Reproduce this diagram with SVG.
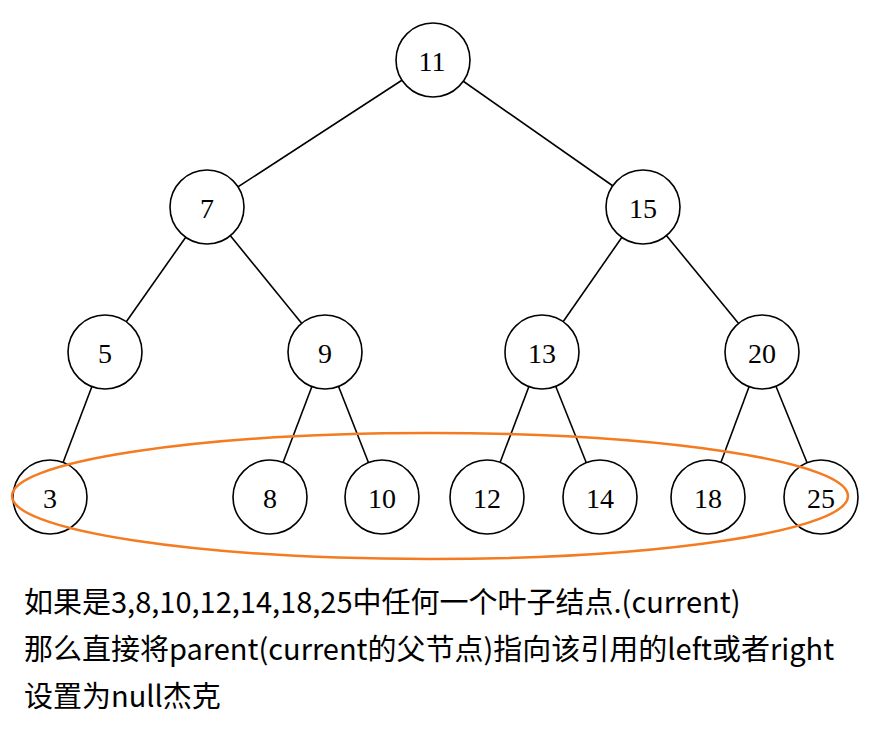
<svg xmlns="http://www.w3.org/2000/svg" width="876" height="744" viewBox="0 0 876 744">
<style>
.n circle{fill:#fff;stroke:#000;stroke-width:1.6}
.n text{font-family:"Liberation Serif","Times New Roman",serif;font-size:28px;text-anchor:middle;fill:#000}
#edges line{stroke:#000;stroke-width:1.6}
.cap{font-family:"Noto Sans CJK SC","Microsoft YaHei",sans-serif;font-size:29px;fill:#000}
</style>
<rect width="876" height="744" fill="#fff"/>
<g id="edges">
<line x1="433" y1="60" x2="207" y2="207"/>
<line x1="433" y1="60" x2="643" y2="207"/>
<line x1="207" y1="207" x2="105" y2="352"/>
<line x1="207" y1="207" x2="325" y2="352"/>
<line x1="643" y1="207" x2="542" y2="352"/>
<line x1="643" y1="207" x2="762" y2="352"/>
<line x1="105" y1="352" x2="50" y2="497"/>
<line x1="325" y1="352" x2="270" y2="497"/>
<line x1="325" y1="352" x2="382" y2="497"/>
<line x1="542" y1="352" x2="487" y2="497"/>
<line x1="542" y1="352" x2="600" y2="497"/>
<line x1="762" y1="352" x2="708" y2="497"/>
<line x1="762" y1="352" x2="821" y2="497"/>
</g>
<g id="n11" class="n"><circle cx="433" cy="60" r="37"/><text x="432" y="71">11</text></g>
<g id="n7" class="n"><circle cx="207" cy="207" r="37"/><text x="207" y="218">7</text></g>
<g id="n15" class="n"><circle cx="643" cy="207" r="37"/><text x="643" y="218">15</text></g>
<g id="n5" class="n"><circle cx="105" cy="352" r="37"/><text x="105" y="363">5</text></g>
<g id="n9" class="n"><circle cx="325" cy="352" r="37"/><text x="325" y="363">9</text></g>
<g id="n13" class="n"><circle cx="542" cy="352" r="37"/><text x="542" y="363">13</text></g>
<g id="n20" class="n"><circle cx="762" cy="352" r="37"/><text x="762" y="363">20</text></g>
<g id="n3" class="n"><circle cx="50" cy="497" r="37"/><text x="50" y="508">3</text></g>
<g id="n8" class="n"><circle cx="270" cy="497" r="37"/><text x="270" y="508">8</text></g>
<g id="n10" class="n"><circle cx="382" cy="497" r="37"/><text x="382" y="508">10</text></g>
<g id="n12" class="n"><circle cx="487" cy="497" r="37"/><text x="487" y="508">12</text></g>
<g id="n14" class="n"><circle cx="600" cy="497" r="37"/><text x="600" y="508">14</text></g>
<g id="n18" class="n"><circle cx="708" cy="497" r="37"/><text x="708" y="508">18</text></g>
<g id="n25" class="n"><circle cx="821" cy="497" r="37"/><text x="821" y="508">25</text></g>
<ellipse id="highlight" cx="430" cy="496" rx="418" ry="63" fill="none" stroke="#f47b20" stroke-width="2.5"/>
<g id="caption">
<text class="cap" x="24" y="613">如果是3,8,10,12,14,18,25中任何一个叶子结点.(current)</text>
<text class="cap" x="24" y="660">那么直接将parent(current的父节点)指向该引用的left或者right</text>
<text class="cap" x="24" y="707">设置为null杰克</text>
</g>
</svg>
